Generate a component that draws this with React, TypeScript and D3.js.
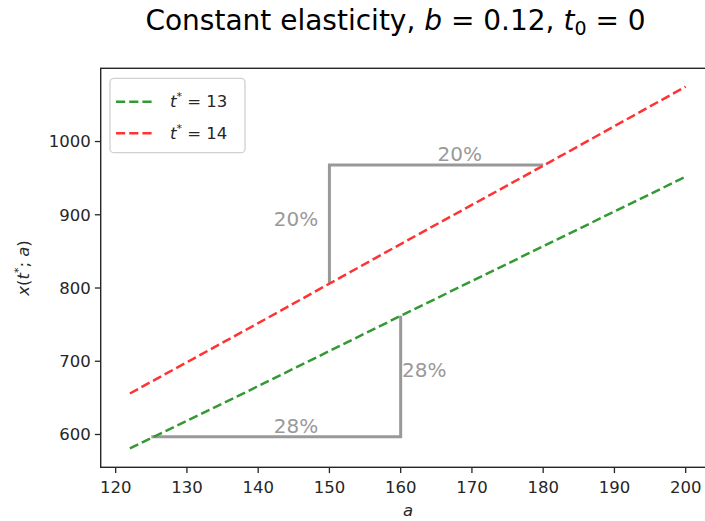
import React from "react";
import * as d3 from "d3";

// ---- data ----
const aValues = [122, 140, 160, 180, 200];
const greenValues = [581, 666, 762, 857, 952]; // t* = 13
const redValues = [656, 752, 860, 967, 1075]; // t* = 14
const xTicks = [120, 130, 140, 150, 160, 170, 180, 190, 200];
const yTicks = [600, 700, 800, 900, 1000];
const seriesNames = ["13", "14"];
// gray guide paths (a, x)
const guideLow: [number, number][] = [[125, 597], [160, 597], [160, 762]];
const guideHigh: [number, number][] = [[150, 807], [150, 968], [180, 968]];
// annotation labels: a, x, text, anchor
const labelA = [145.3, 160.2, 145.3, 168.3];
const labelX = [602, 679, 885, 973];
const labelText = ["28%", "28%", "20%", "20%"];
const labelAnchor = ["middle", "start", "middle", "middle"];

const FONT = "DejaVu Sans";

export default function App() {
  const W = 705, H = 521;
  const left = 100.7, right = 714.9, top = 68.3, bottom = 467.3;
  const x = d3.scaleLinear().domain([117.9, 204.1]).range([left, right]);
  const y = d3.scaleLinear().domain([555.2, 1100]).range([bottom, top]);
  const line = d3.line<[number, number]>().x(d => x(d[0])).y(d => y(d[1]));
  const green: [number, number][] = aValues.map((a, i) => [a, greenValues[i]]);
  const red: [number, number][] = aValues.map((a, i) => [a, redValues[i]]);
  const gray = "#999999";
  const greenC = "#339933";
  const redC = "#ff3333";
  const dash = "9.2,4";
  const lw = 2.5;
  const tickFs = 16.5;

  return (
    <svg width={W} height={H} style={{ position: "fixed", left: 0, top: 0, background: "#fff" }} fontFamily={FONT}>
      <rect x={0} y={0} width={W} height={H} fill="#fff" />
      {/* title */}
      <text x={395.5} y={30} textAnchor="middle" fontSize={28} fill="#000">
        Constant elasticity, <tspan fontStyle="italic">b</tspan> = 0.12, <tspan fontStyle="italic">t</tspan>
        <tspan fontSize={19} dy={5}>0</tspan>
        <tspan dy={-5}> = 0</tspan>
      </text>
      <defs>
        <clipPath id="plotclip">
          <rect x={left} y={top} width={right - left} height={bottom - top} />
        </clipPath>
      </defs>
      <g clipPath="url(#plotclip)">
        <path d={line(guideLow) || ""} fill="none" stroke={gray} strokeWidth={3} />
        <path d={line(guideHigh) || ""} fill="none" stroke={gray} strokeWidth={3} />
        <path d={line(green) || ""} fill="none" stroke={greenC} strokeWidth={lw} strokeDasharray={dash} />
        <path d={line(red) || ""} fill="none" stroke={redC} strokeWidth={lw} strokeDasharray={dash} />
      </g>
      {labelText.map((t, i) => (
        <text key={i} x={x(labelA[i])} y={y(labelX[i])} textAnchor={labelAnchor[i] as any} fontSize={20} fill={gray}>
          {t}
        </text>
      ))}
      {/* spines */}
      <rect x={left} y={top} width={right - left} height={bottom - top} fill="none" stroke="#262626" strokeWidth={1.4} />
      {/* x ticks */}
      {xTicks.map(t => (
        <g key={t} transform={`translate(${x(t)},${bottom})`}>
          <line y1={0} y2={5.8} stroke="#262626" strokeWidth={1.3} />
          <text y={26} textAnchor="middle" fontSize={tickFs} fill="#262626">{t}</text>
        </g>
      ))}
      {yTicks.map(t => (
        <g key={t} transform={`translate(${left},${y(t)})`}>
          <line x1={0} x2={-5.8} stroke="#262626" strokeWidth={1.3} />
          <text x={-10} dy="0.35em" textAnchor="end" fontSize={tickFs} fill="#262626">{t}</text>
        </g>
      ))}
      {/* axis labels */}
      <text x={408} y={516} textAnchor="middle" fontSize={tickFs} fontStyle="italic" fill="#262626">a</text>
      <text transform={`translate(29,268) rotate(-90)`} textAnchor="middle" fontSize={tickFs} fill="#262626">
        <tspan fontStyle="italic">x</tspan>(<tspan fontStyle="italic">t</tspan>
        <tspan fontSize={11} dy={-7}>*</tspan>
        <tspan dy={7}>; </tspan>
        <tspan fontStyle="italic">a</tspan>)
      </text>
      {/* legend */}
      <rect x={110} y={78.3} width={135} height={74.4} rx={4} fill="#fff" fillOpacity={0.8} stroke="#d0d0d0" strokeWidth={1.3} />
      {seriesNames.map((n, i) => {
        const ly = 101.7 + i * 31.5;
        return (
          <g key={n}>
            <line x1={116} x2={153} y1={ly} y2={ly} stroke={i === 0 ? greenC : redC} strokeWidth={lw} strokeDasharray={dash} />
            <text x={170} y={ly} dy="0.35em" fontSize={tickFs} fill="#262626">
              <tspan fontStyle="italic">t</tspan>
              <tspan fontSize={11} dy={-7}>*</tspan>
              <tspan dy={7}> = {n}</tspan>
            </text>
          </g>
        );
      })}
    </svg>
  );
}
